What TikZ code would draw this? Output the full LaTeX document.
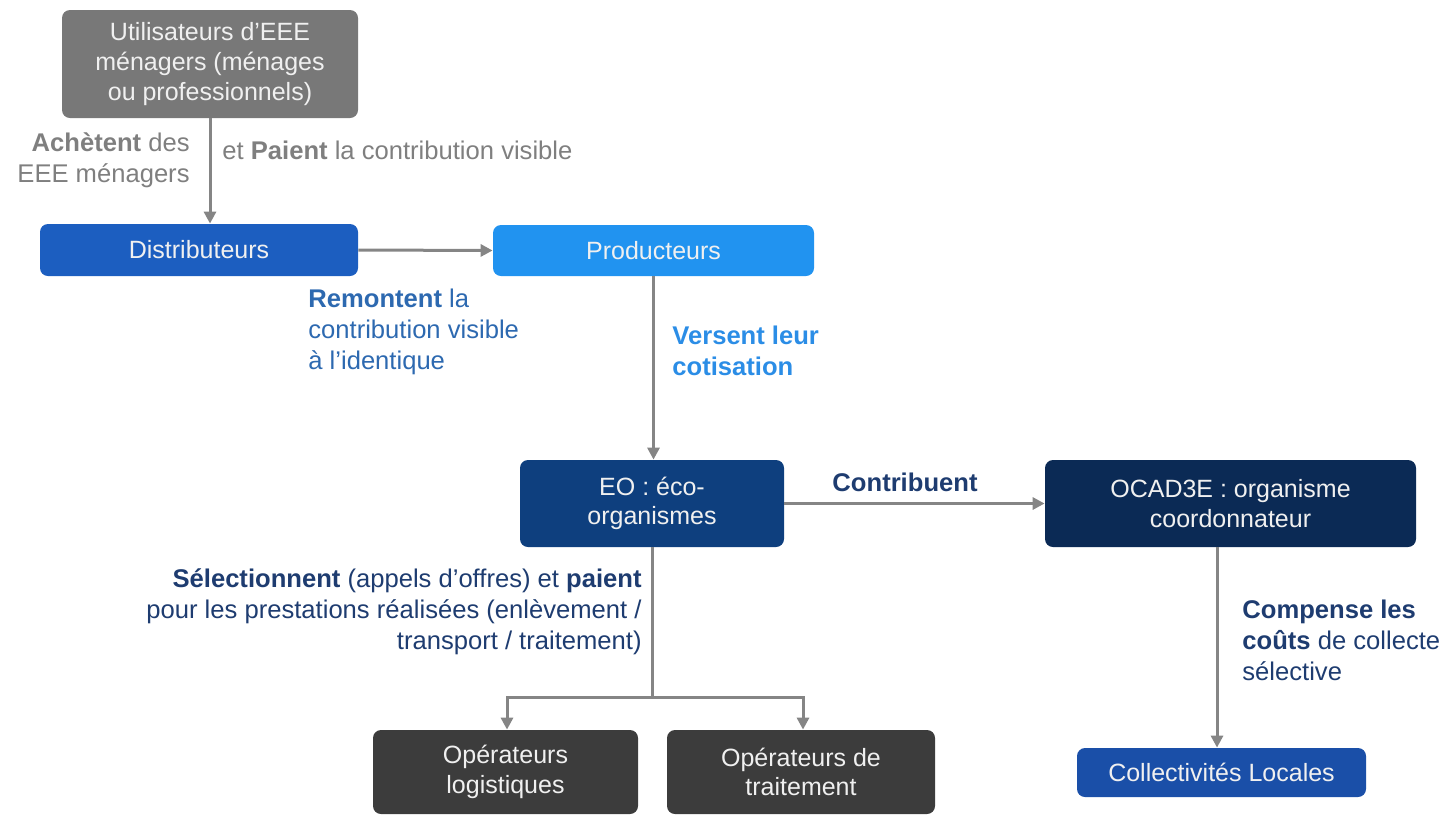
\documentclass[tikz,border=0pt]{standalone}
\usepackage{fontspec}
\setmainfont{Liberation Sans}
\usetikzlibrary{arrows.meta,calc}
\definecolor{cgraybox}{HTML}{787878}
\definecolor{cdist}{HTML}{1C5EC0}
\definecolor{cprod}{HTML}{2193F0}
\definecolor{ceo}{HTML}{0E3F7E}
\definecolor{cocad}{HTML}{0B2A55}
\definecolor{cop}{HTML}{3C3C3C}
\definecolor{ccol}{HTML}{1A4FA8}
\definecolor{carrow}{HTML}{858585}
\definecolor{tgray}{HTML}{7F7F7F}
\definecolor{tremont}{HTML}{2D69B0}
\definecolor{tversent}{HTML}{2B8DE6}
\definecolor{tnavy}{HTML}{1E3C70}
\tikzset{
  box/.style={rounded corners=4pt, text=white!94!black, align=center, inner sep=2pt,
    font=\fontsize{12.5}{14.8}\selectfont},
  arr/.style={draw=carrow, line width=1.5pt, -{Triangle[length=6pt,width=6pt]}},
  lin/.style={draw=carrow, line width=1.5pt},
  lbl/.style={font=\fontsize{12.8}{15.5}\selectfont, inner sep=0pt}
}
\begin{document}
\begin{tikzpicture}[x=0.5pt,y=-0.5pt]
\useasboundingbox (0,0) rectangle (1444,815);
% boxes
\node[box, fill=cgraybox, minimum width=148pt, minimum height=54pt] (U) at (210,64)
  {Utilisateurs d'EEE\\ménagers (ménages\\ou professionnels)};
\node[box, fill=cdist, minimum width=159pt, minimum height=26pt] (D) at (199,250) {Distributeurs};
\node[box, fill=cprod, minimum width=160.5pt, minimum height=25.5pt] (P) at (653.5,250.5) {Producteurs};
\node[box, fill=ceo, minimum width=132pt, minimum height=43.5pt] (EO) at (652,503.5) {EO : éco-\\organismes};
\node[box, fill=cocad, minimum width=185.5pt, minimum height=43.5pt] (OC) at (1230.5,503.5) {OCAD3E : organisme\\coordonnateur};
\node[box, fill=cop, minimum width=132.5pt, minimum height=42pt] (L) at (505.5,772) {Opérateurs\\logistiques};
\node[box, fill=cop, minimum width=134pt, minimum height=42pt] (T) at (801,772) {Opérateurs de\\traitement};
\node[box, fill=ccol, minimum width=144.5pt, minimum height=24.5pt] (C) at (1221.5,772.5) {Collectivités Locales};
% connectors
\draw[arr] (U.south) -- (U.south |- D.north);
\draw[arr] (D.east) -- (P.west);
\draw[arr] (P.south) -- (P.south |- EO.north);
\draw[arr] (EO.east) -- (OC.west);
\coordinate (J) at (652,697);
\draw[lin] (EO.south) -- (J);
\draw[arr] (J) -| ([xshift=0.75pt]L.north);
\draw[arr] (J) -| ([xshift=1pt]T.north);
\draw[arr] ([xshift=-6.75pt]OC.south) -- ([xshift=-2.25pt]C.north);
% labels
\node[lbl, text=tgray, align=right, anchor=east] (l1) at (190,160) {\textbf{Achètent} des\\EEE ménagers};
\node[lbl, text=tgray, anchor=west] (l2) at (222,150) {et \textbf{Paient} la contribution visible};
\node[lbl, text=tremont, align=left, anchor=west] (l3) at (308,332) {\textbf{Remontent} la\\contribution visible\\à l'identique};
\node[lbl, text=tversent, align=left, anchor=west] (l4) at (672,351) {\textbf{Versent leur}\\\textbf{cotisation}};
\node[lbl, text=tnavy] (l5) at (905,482) {\textbf{Contribuent}};
\node[lbl, text=tnavy, align=right, anchor=east] (l6) at (642,612) {\textbf{Sélectionnent} (appels d'offres) et \textbf{paient}\\pour les prestations réalisées (enlèvement /\\transport / traitement)};
\node[lbl, text=tnavy, align=left, anchor=west] (l7) at (1242,640) {\textbf{Compense les}\\\textbf{coûts} de collecte\\sélective};
\end{tikzpicture}
\end{document}
